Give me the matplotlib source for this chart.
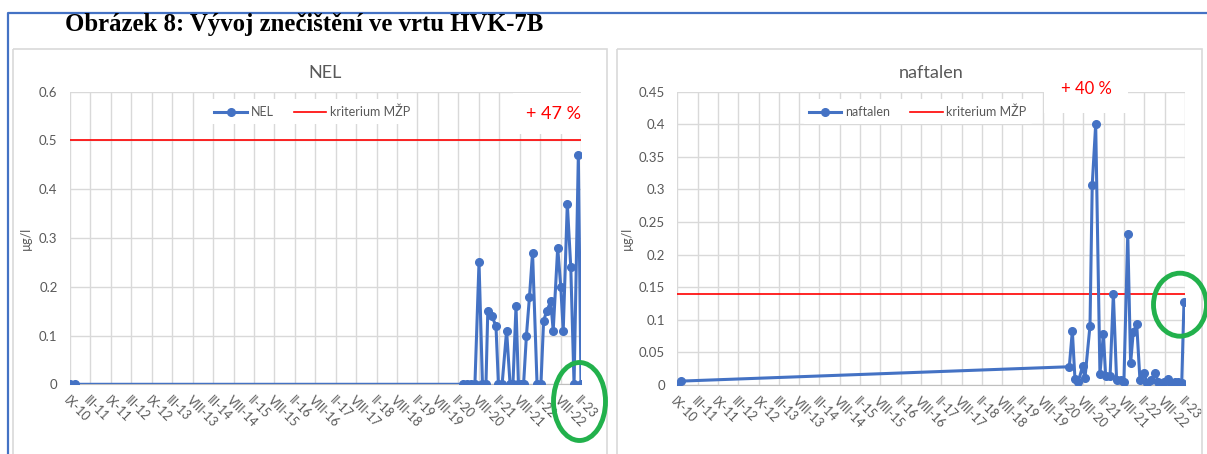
import matplotlib
matplotlib.use("Agg")
import matplotlib.pyplot as plt
from matplotlib.patches import Rectangle, Ellipse

plt.rcParams['font.family'] = ['Lato', 'DejaVu Sans']

# tick labels of the sampling axis (IX-10 .. II-23)
x_labels = ['IX-10', 'III-11', 'IX-11', 'III-12', 'IX-12', 'III-13', 'VIII-13',
            'III-14', 'VIII-14', 'II-15', 'VIII-15', 'II-16', 'VIII-16', 'II-17',
            'VIII-17', 'II-18', 'VIII-18', 'II-19', 'VIII-19', 'II-20', 'VIII-20',
            'II-21', 'VIII-21', 'II-22', 'VIII-22', 'II-23']

# NEL, position measured in tick steps from IX-10
nel_pos = [0.0, 0.25, 19.24, 19.42, 19.62, 19.81, 20.01, 20.18, 20.35, 20.44,
           20.63, 20.84, 20.96, 21.14, 21.36, 21.53, 21.67, 21.82, 21.94, 22.06,
           22.19, 22.33, 22.48, 22.63, 22.85, 23.04, 23.17, 23.32, 23.52, 23.64,
           23.86, 24.01, 24.13, 24.33, 24.50, 24.66, 24.87, 25.0]
nel_val = [0, 0, 0, 0, 0, 0, 0.25, 0, 0, 0.15,
           0.14, 0.12, 0, 0, 0.11, 0, 0, 0.16, 0, 0,
           0, 0.10, 0.18, 0.27, 0, 0, 0.13, 0.15, 0.17, 0.11,
           0.28, 0.20, 0.11, 0.37, 0.24, 0, 0.47, 0]

# naftalen
naf_pos = [0.0, 0.2, 19.31, 19.46, 19.59, 19.75, 19.97, 20.08, 20.33, 20.44,
           20.61, 20.82, 20.99, 21.10, 21.32, 21.48, 21.64, 21.84, 22.00, 22.19,
           22.33, 22.46, 22.63, 22.79, 22.99, 23.15, 23.34, 23.53, 23.70, 23.83,
           23.99, 24.16, 24.32, 24.52, 24.68, 24.85, 24.96]
naf_val = [0.0, 0.006, 0.028, 0.083, 0.009, 0.005, 0.029, 0.010, 0.091, 0.307,
           0.40, 0.017, 0.078, 0.014, 0.014, 0.14, 0.008, 0.008, 0.005, 0.232,
           0.033, 0.081, 0.094, 0.008, 0.018, 0.003, 0.008, 0.018, 0.005, 0.0,
           0.005, 0.009, 0.003, 0.005, 0.005, 0.003, 0.128]

nel_limit = 0.5
naf_limit = 0.14

nel_ticks = [0, 0.1, 0.2, 0.3, 0.4, 0.5, 0.6]
nel_ticklabels = ['0', '0.1', '0.2', '0.3', '0.4', '0.5', '0.6']
naf_ticks = [0, 0.05, 0.1, 0.15, 0.2, 0.25, 0.3, 0.35, 0.4, 0.45]
naf_ticklabels = ['0', '0.05', '0.1', '0.15', '0.2', '0.25', '0.3', '0.35', '0.4', '0.45']

BLUE = '#4472C4'
GRAY = '#595959'
GRID = '#D9D9D9'
W, H = 1207, 454

fig = plt.figure(figsize=(W / 100, H / 100), dpi=100)


def px_axes(left, top, right, bottom):
    return fig.add_axes([left / W, 1 - bottom / H, (right - left) / W, (bottom - top) / H])


def chart(ax, pos, val, limit, name, ticks, ticklabels, ymax):
    ax.plot(pos, val, color=BLUE, lw=2.2, marker='o', ms=5.5, label=name, zorder=3)
    ax.axhline(limit, color='red', lw=1.2, label='kriterium MŽP', zorder=2)
    ax.set_xlim(0, len(x_labels) - 1)
    ax.set_ylim(0, ymax)
    ax.set_xticks(range(len(x_labels)))
    ax.set_xticklabels(x_labels, rotation=-45, ha='left', va='top',
                       rotation_mode='anchor', fontsize=9, color=GRAY)
    ax.set_yticks(ticks)
    ax.set_yticklabels(ticklabels, fontsize=9.5, color=GRAY)
    ax.tick_params(length=0)
    ax.tick_params(axis='y', pad=9)
    ax.tick_params(axis='x', pad=7)
    ax.grid(True, color=GRID, lw=1)
    ax.set_axisbelow(True)
    for s in ['top', 'right', 'left']:
        ax.spines[s].set_visible(False)
    ax.spines['bottom'].set_color('#BFBFBF')
    ax.set_ylabel('µg/l', fontsize=9, color=GRAY)
    ax.set_title(name, fontsize=13, color=GRAY, pad=10)
    leg = ax.legend(loc='upper center', bbox_to_anchor=(0.474, 0.995), ncol=2,
                    fontsize=9, frameon=True, numpoints=1, handlelength=2.6,
                    columnspacing=1.6, handletextpad=0.3, borderpad=0.5)
    leg.get_frame().set_edgecolor('none')
    leg.get_frame().set_facecolor('white')
    leg.get_frame().set_alpha(1)
    for t in leg.get_texts():
        t.set_color(GRAY)
    return ax


ax1 = px_axes(70, 91.7, 581, 384.3)
chart(ax1, nel_pos, nel_val, nel_limit, 'NEL', nel_ticks, nel_ticklabels, 0.6)
ax1.yaxis.set_label_coords(-0.075, 0.5)
ax1.text(0.946, 0.925, '+ 47 %', transform=ax1.transAxes, color='red', fontsize=13,
         ha='center', va='center', zorder=5,
         bbox=dict(facecolor='white', edgecolor='none', pad=9))

ax2 = px_axes(677.3, 91.7, 1184.8, 385)
chart(ax2, naf_pos, naf_val, naf_limit, 'naftalen', naf_ticks, naf_ticklabels, 0.45)
ax2.yaxis.set_label_coords(-0.088, 0.5)
ax2.text(0.806, 1.01, '+ 40 %', transform=ax2.transAxes, color='red', fontsize=12,
         ha='center', va='center', zorder=5, clip_on=False,
         bbox=dict(facecolor='white', edgecolor='none', pad=12))

# page decorations: frame, figure caption, chart borders, highlight circles
ov = fig.add_axes([0, 0, 1, 1])
ov.set_xlim(0, W)
ov.set_ylim(H, 0)
ov.axis('off')
ov.patch.set_alpha(0)
ov.plot([8, 8, W], [H, 13, 13], color=BLUE, lw=1.6)
ov.text(65, 31, 'Obrázek 8: Vývoj znečištění ve vrtu HVK-7B', family='Liberation Serif',
        weight='bold', fontsize=17.8, color='black', ha='left', va='baseline')
ov.add_patch(Rectangle((12.7, 49.3), 594.3, 420, fill=False, ec='#D9D9D9', lw=1.2))
ov.add_patch(Rectangle((617.3, 49.3), 585, 420, fill=False, ec='#D9D9D9', lw=1.2))
ov.add_patch(Ellipse((579.5, 401.5), 52, 78, fill=False, ec='#22B14C', lw=3.5))
ov.add_patch(Ellipse((1180, 304.7), 53, 63, fill=False, ec='#22B14C', lw=3.5))

fig.savefig('out.png', dpi=100)
